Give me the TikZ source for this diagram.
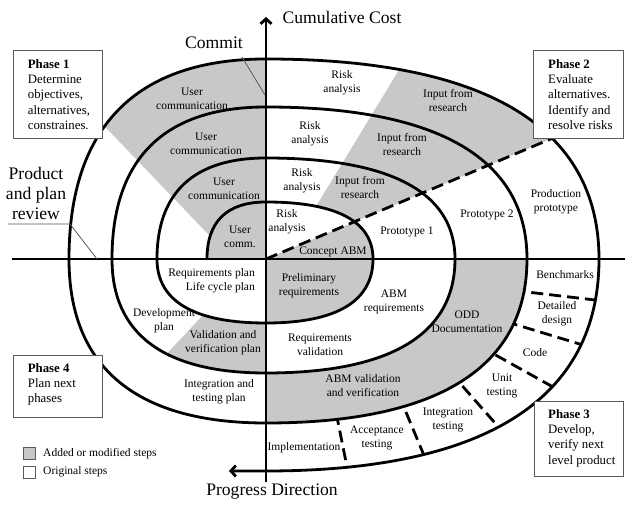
\documentclass[tikz,border=0pt]{standalone}
\usepackage{fontspec}
\setmainfont{Liberation Serif}
\usetikzlibrary{arrows.meta}
\definecolor{addgray}{RGB}{200,200,200}
\definecolor{boxgray}{RGB}{90,90,90}
\newcommand\sq{0.66}
% quarter arcs (path fragments)
\newcommand\qUL[2]{.. controls (-#1,\sq*#2) and (-\sq*#1,#2) .. (0,#2)}
\newcommand\qUR[2]{.. controls (\sq*#1,#2) and (#1,\sq*#2) .. (#1,0)}
\newcommand\qLR[2]{.. controls (#1,-\sq*#2) and (\sq*#1,-#2) .. (0,-#2)}
\newcommand\qLL[2]{.. controls (-\sq*#1,-#2) and (-#1,-\sq*#2) .. (-#1,0)}
\tikzset{
  curve/.style={line width=2.8pt},
  axisline/.style={line width=2.8pt},
  dsh/.style={line width=2.8pt, dash pattern=on 12pt off 6pt},
  addfill/.style={fill=addgray},
  lbl/.style={font=\fontsize{11.5}{14}\selectfont, align=center, inner sep=0pt},
  big/.style={font=\fontsize{17.6}{20}\selectfont, align=center, inner sep=0pt},
  phasebox/.style={draw=boxgray, line width=0.9pt, fill=white, inner sep=0pt},
  phasetext/.style={font=\fontsize{12.8}{15.3}\selectfont, align=left, inner sep=0pt, anchor=north west},
  leader/.style={draw=boxgray, line width=0.8pt},
  legbox/.style={draw=boxgray, line width=0.8pt, minimum size=12pt, inner sep=0pt},
  legtext/.style={font=\fontsize{11.5}{14}\selectfont, anchor=west, inner sep=0pt},
  tip/.style={-{Straight Barb[length=5pt,width=11pt]}}
}
\begin{document}
\begin{tikzpicture}[x=1pt,y=1pt]
\useasboundingbox (-266,-254) rectangle (374,259);
\fill[white] (-266,-254) rectangle (374,259);

% ---------- grey fills ----------
% upper left
\begin{scope}
  \clip (0,0) -- (-197,0) \qUL{197}{200} -- cycle;
  \fill[addfill] (0,0) -- (-34,0) -- (-274,250) -- (0,250) -- cycle;
\end{scope}
\fill[addfill] (0,0) -- (-59,0) \qUL{59}{57} -- cycle;
% upper right
\begin{scope}
  \clip (0,0) -- (0,200) \qUR{333}{200} -- cycle;
  \fill[addfill] (24.4,10.3) -- (176,260) -- (400,260) -- (400,168.6) -- cycle;
\end{scope}
\fill[white] (0,0) -- (0,57) \qUR{107}{57} -- cycle;
\begin{scope}
  \clip (0,0) -- (0,57) \qUR{107}{57} -- cycle;
  \fill[addfill] (0,0) -- (200,84.3) -- (200,0) -- cycle;
\end{scope}
% lower right
\fill[addfill] (0,0) -- (261,0) \qLR{261}{164} -- cycle;
\fill[white] (0,0) -- (189,0) \qLR{189}{114} -- cycle;
\fill[addfill] (0,0) -- (107,0) \qLR{107}{64} -- cycle;
% lower left
\begin{scope}
  \clip (0,0) -- (0,-114) \qLL{154}{114} -- cycle;
  \fill[addfill] (0,0) -- (-10.4,0) -- (-151,-150) -- (0,-150) -- cycle;
\end{scope}
\fill[white] (0,0) -- (0,-64) \qLL{109}{64} -- cycle;

% ---------- dashed lines ----------
\coordinate (O) at (0,0);
\coordinate (dashend) at (287,121);
\draw[dsh] (O) -- (dashend);
\begin{scope}
  \clip (261,0) \qLR{261}{164} -- (0,-212)
        .. controls (\sq*333,-212) and (333,-\sq*212) .. (333,0) -- cycle;
  \draw[dsh] (247.4,-31.4) -- (342.6,-42.6);
  \draw[dsh] (239.8,-62.6) -- (318.2,-86.4);
  \draw[dsh] (213.8,-87.2) -- (299.2,-134.8);
  \draw[dsh] (184.6,-113.6) -- (236.4,-172.4);
  \draw[dsh] (133,-136.4) -- (161,-203.6);
  \draw[dsh] (70.2,-154) -- (82.8,-217);
\end{scope}

% ---------- axes ----------
\coordinate (xl) at (-254,0);
\coordinate (xr) at (359,0);
\coordinate (yb) at (0,-223);
\coordinate (yt) at (0,242);
\draw[axisline] (xl) -- (xr);
\draw[axisline, tip] (yb) -- (yt);

% ---------- spiral ----------
\coordinate (arrowend) at (-37,-212);
\draw[curve, tip] (-59,0) \qUL{59}{57} \qUR{107}{57} \qLR{107}{64} \qLL{109}{64}
  \qUL{109}{101} \qUR{189}{101} \qLR{189}{114} \qLL{154}{114}
  \qUL{154}{152} \qUR{261}{152} \qLR{261}{164} \qLL{197}{164}
  \qUL{197}{200} \qUR{333}{200} \qLR{333}{212} -- (arrowend);

% ---------- leaders ----------
\coordinate (cm1) at (-24,202);
\coordinate (cm2) at (-1,164);
\draw[leader] (cm1) -- (cm2);
\coordinate (pr1) at (-258,35);
\coordinate (pr2) at (-196,35);
\coordinate (pr3) at (-169,0);
\draw[leader] (pr1) -- (pr2) -- (pr3);

% ---------- big labels ----------
\node[big] (cumcost) at (76,242) {Cumulative Cost};
\node[big] (commit) at (-52,216) {Commit};
\node[big] (review) at (-230,66) {Product\\and plan\\review};
\node[big] (progress) at (6,-233) {Progress Direction};

% ---------- upper left labels ----------
\node[lbl] (uc3) at (-74,160) {User\\communication};
\node[lbl] (uc2) at (-60,115) {User\\communication};
\node[lbl] (uc1) at (-42,70) {User\\communication};
\node[lbl] (uc0) at (-26,22) {User\\comm.};
% ---------- upper right labels ----------
\node[lbl] (ra3) at (76,176) {Risk\\analysis};
\node[lbl] (ra2) at (44,125) {Risk\\analysis};
\node[lbl] (ra1) at (36,78) {Risk\\analysis};
\node[lbl] (ra0) at (21,37) {Risk\\analysis};
\node[lbl] (ir3) at (182,158) {Input from\\research};
\node[lbl] (ir2) at (136,114) {Input from\\research};
\node[lbl] (ir1) at (94,71) {Input from\\research};
\node[lbl] (cabm) at (67,7) {Concept ABM};
\node[lbl] (pt1) at (141,27) {Prototype 1};
\node[lbl] (pt2) at (221,44) {Prototype 2};
\node[lbl] (ppt) at (290,57) {Production\\prototype};
% ---------- lower right labels ----------
\node[lbl] (prelim) at (43,-27) {Preliminary\\requirements};
\node[lbl] (abmreq) at (128,-43) {ABM\\requirements};
\node[lbl] (reqval) at (54,-86) {Requirements\\validation};
\node[lbl] (odd) at (201,-63) {ODD\\Documentation};
\node[lbl] (abmval) at (97,-127) {ABM validation\\and verification};
\node[lbl] (bench) at (299,-16) {Benchmarks};
\node[lbl] (detail) at (291,-55) {Detailed\\design};
\node[lbl] (code) at (269,-94) {Code};
\node[lbl] (unit) at (236,-127) {Unit\\testing};
\node[lbl] (integ) at (182,-161) {Integration\\testing};
\node[lbl] (accept) at (111,-179) {Acceptance\\testing};
\node[lbl] (impl) at (38,-189) {Implementation};
% ---------- lower left labels ----------
\node[lbl, align=right, anchor=east] (reqplan) at (-11,-22) {Requirements plan\\Life cycle plan};
\node[lbl] (devplan) at (-102,-62) {Development\\plan};
\node[lbl] (vvplan) at (-43,-84) {Validation and\\verification plan};
\node[lbl] (itplan) at (-47,-133) {Integration and\\testing plan};

% ---------- phase boxes ----------
\node[phasebox, minimum width=89pt, minimum height=88pt] (ph1) at (-208.5,165) {};
\node[phasetext] (ph1t) at (-238.3,199.7) {\textbf{Phase 1}\\Determine\\objectives,\\alternatives,\\constraines.};
\node[phasebox, minimum width=90pt, minimum height=88pt] (ph2) at (312,165) {};
\node[phasetext] (ph2t) at (282,199.7) {\textbf{Phase 2}\\Evaluate\\alternatives.\\Identify and\\resolve risks};
\node[phasebox, minimum width=89pt, minimum height=75pt] (ph3) at (312.5,-179.5) {};
\node[phasetext] (ph3t) at (282,-150.3) {\textbf{Phase 3}\\Develop,\\verify next\\level product};
\node[phasebox, minimum width=89pt, minimum height=62pt] (ph4) at (-208.5,-127) {};
\node[phasetext] (ph4t) at (-238.3,-104.3) {\textbf{Phase 4}\\Plan next\\phases};

% ---------- legend ----------
\node[legbox, fill=addgray] (leg1) at (-237,-194.5) {};
\node[legtext] (leg1t) at (-223,-195) {Added or modified steps};
\node[legbox, fill=white] (leg2) at (-237,-213.5) {};
\node[legtext] (leg2t) at (-223,-213) {Original steps};
\end{tikzpicture}
\end{document}
